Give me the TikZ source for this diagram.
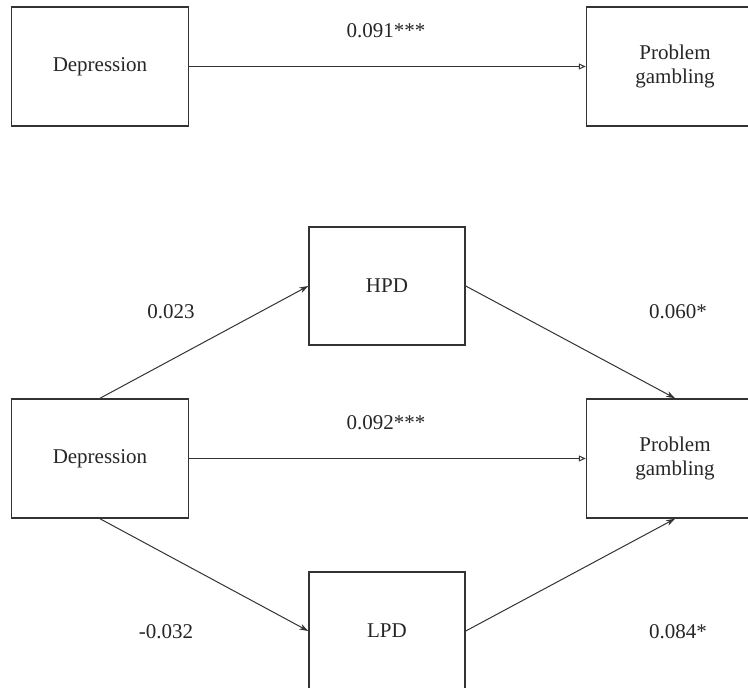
\documentclass[tikz,border=0pt]{standalone}
\usepackage{fontspec}
\setmainfont{Liberation Serif}
\usetikzlibrary{arrows.meta}
\def\rowsep{392}

\begin{document}
\begin{tikzpicture}[x=1pt,y=-1pt,draw=black!80,line width=1pt]
      \tikzstyle{every node}=[font=\fontsize{21}{24}\selectfont,text=black!85]
      \tikzstyle{var}=[draw,rectangle,line width=1.5pt,minimum height=119pt,align=center,inner sep=0pt]
      \tikzstyle{outer var}=[var,minimum width=177pt]
      \tikzstyle{mediator}=[var,minimum width=156pt,minimum height=118pt]
      \tikzstyle{direct path}=[-{Triangle[open,length=7pt,width=6pt]}]
      \tikzstyle{indirect path}=[-{Stealth[length=9pt,width=6pt]}]
      \tikzstyle{coef}=[inner sep=0pt]

      \useasboundingbox (0,0) rectangle (748,688);
      \clip (0,0) rectangle (748,688);

      % Draw the predictor and outcome nodes of both models
      \foreach \name / \y in {1/66.5,2/458.5}
      {
          \node[outer var] (D-\name) at (100,\y) {Depression};
          \node[outer var] (P-\name) at (675,\y) {Problem\\gambling};
      }

      % Draw the mediator nodes
      \node[mediator] (HPD) at (387,286) {HPD};
      \node[mediator] (LPD) at (387,631) {LPD};

      % Direct paths
      \foreach \name in {1,2}
          \path[draw,direct path] (D-\name) -- (P-\name);

      % Paths through the mediators
      \draw[indirect path] (D-2.north) -- (HPD.west);
      \draw[indirect path] (HPD.east) -- (P-2.north);
      \draw[indirect path] (D-2.south) -- (LPD.west);
      \draw[indirect path] (LPD.east) -- (P-2.south);

      % Annotate the paths
      \node[coef] (c-total) at (386,31) {0.091***};
      \node[coef] (c-direct) at (386,31+\rowsep) {0.092***};
      \node[coef] (c-a1) at (171,312) {0.023};
      \node[coef] (c-b1) at (678,312) {0.060*};
      \node[coef] (c-a2) at (166,632) {-0.032};
      \node[coef] (c-b2) at (678,632) {0.084*};
\end{tikzpicture}
\end{document}
